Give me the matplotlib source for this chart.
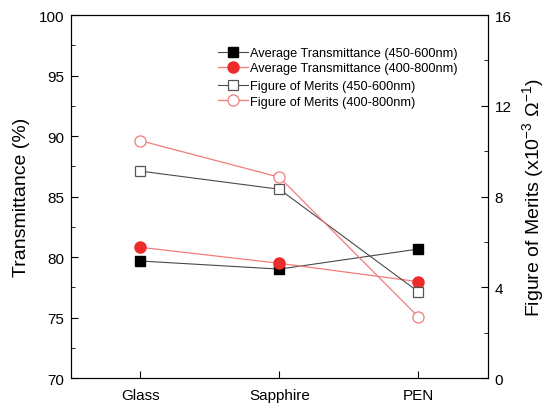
import numpy as np
import matplotlib.pyplot as plt
from matplotlib.ticker import MultipleLocator

plt.rcParams['font.family'] = ['Liberation Sans', 'DejaVu Sans']
plt.rcParams['mathtext.fontset'] = 'custom'
plt.rcParams['mathtext.rm'] = 'Liberation Sans'

substrates = ['Glass', 'Sapphire', 'PEN']
avg_t_450_600 = [79.67, 79.0, 80.66]
avg_t_400_800 = [80.8, 79.48, 77.96]
fom_450_600 = [9.12, 8.32, 3.80]
fom_400_800 = [10.46, 8.85, 2.69]

x = np.arange(len(substrates))

fig = plt.figure(figsize=(5.5, 4.06), dpi=100)
ax = fig.add_axes([0.129, 0.0665, 0.758, 0.894])
ax2 = ax.twinx()

red = '#ee2b2b'
lred = '#f07c7c'
dark = '#4a4a4a'

l1, = ax.plot(x, avg_t_450_600, color=dark, lw=0.8, marker='s', ms=7.5,
              mfc='black', mec='black', label='Average Transmittance (450-600nm)')
l2, = ax.plot(x, avg_t_400_800, color=lred, lw=0.9, marker='o', ms=8,
              mfc=red, mec=red, label='Average Transmittance (400-800nm)')
l3, = ax2.plot(x, fom_450_600, color=dark, lw=0.8, marker='s', ms=7.5,
               mfc='white', mec='#555555', mew=0.9, label='Figure of Merits (450-600nm)')
l4, = ax2.plot(x, fom_400_800, color=lred, lw=0.9, marker='o', ms=8,
               mfc='white', mec=lred, mew=0.9, label='Figure of Merits (400-800nm)')

ax.set_xlim(-0.5, 2.5)
ax.set_ylim(70, 100)
ax2.set_ylim(0, 16)
ax.set_xticks(x)
ax.set_xticklabels(substrates)
ax.yaxis.set_major_locator(MultipleLocator(5))
ax.yaxis.set_minor_locator(MultipleLocator(2.5))
ax2.yaxis.set_major_locator(MultipleLocator(4))
ax2.yaxis.set_minor_locator(MultipleLocator(2))

ax.tick_params(axis='both', which='both', direction='in', labelsize=11, top=False)
ax.tick_params(axis='y', which='major', length=5, pad=5)
ax.tick_params(axis='y', which='minor', length=3)
ax.tick_params(axis='x', length=5, pad=7)
ax2.tick_params(axis='y', which='both', direction='in', labelsize=11, pad=5)
ax2.tick_params(axis='y', which='major', length=5)
ax2.tick_params(axis='y', which='minor', length=3)

ax.set_ylabel('Transmittance (%)', fontsize=14, labelpad=6)
ax2.set_ylabel('Figure of Merits (x10$^{-3}$ $\\Omega^{-1}$)', fontsize=14, labelpad=6)

leg1 = fig.legend(handles=[l1, l2], loc='upper left', bbox_to_anchor=(0.385, 0.897),
                  frameon=False, fontsize=9.2, handlelength=2.3, handletextpad=0.2,
                  labelspacing=0.25, borderpad=0)
leg2 = fig.legend(handles=[l3, l4], loc='upper left', bbox_to_anchor=(0.385, 0.815),
                  frameon=False, fontsize=9.2, handlelength=2.3, handletextpad=0.2,
                  labelspacing=0.25, borderpad=0)

fig.savefig('out.png', dpi=100)
